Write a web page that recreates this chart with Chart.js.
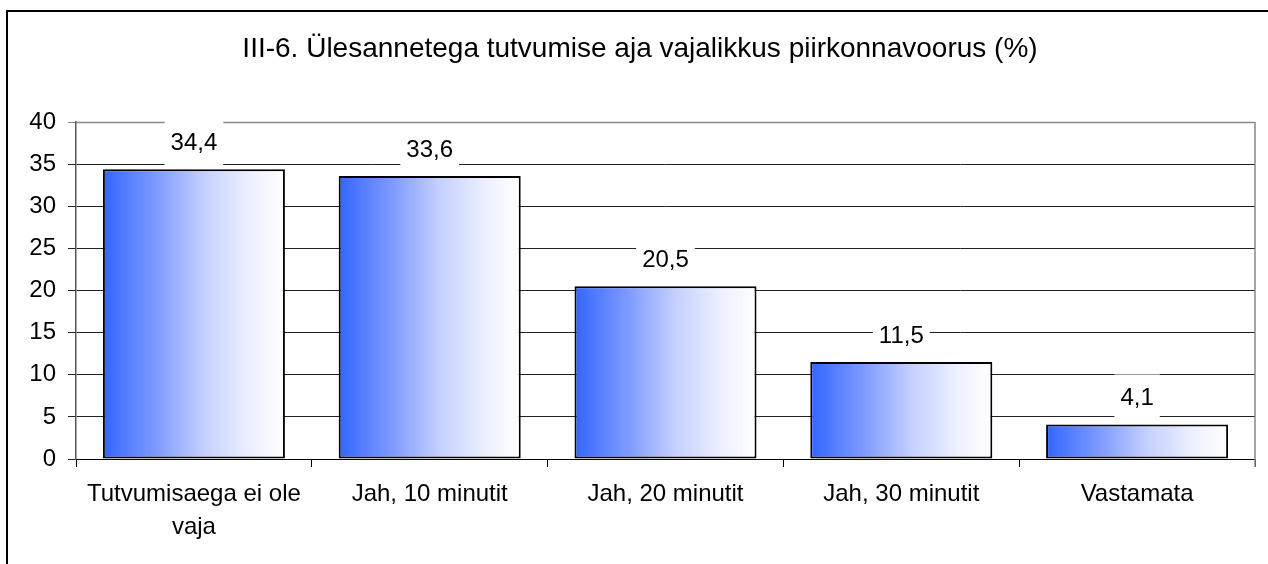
<!DOCTYPE html>
<html>
<head>
<meta charset="utf-8">
<script src="https://cdn.jsdelivr.net/npm/chart.js@4.4.1/dist/chart.umd.min.js"></script>
<style>
  html, body { margin: 0; padding: 0; background: #fff; }
  #wrap { width: 1268px; height: 564px; position: relative; }
</style>
</head>
<body>
<div id="wrap"><canvas id="chart" width="1268" height="564"></canvas></div>
<script>
// data
const categories = [["Tutvumisaega ei ole", "vaja"], "Jah, 10 minutit", "Jah, 20 minutit", "Jah, 30 minutit", "Vastamata"];
const values = [34.4, 33.6, 20.5, 11.5, 4.1];
const titleText = "III-6. Ülesannetega tutvumise aja vajalikkus piirkonnavoorus (%)";
const yMin = 0, yMax = 40, yStep = 5;

const FONT = '"Liberation Sans", Arial, sans-serif';
const BAR_PCT = 0.772;

// horizontal blue -> white fill for each bar
function barGradient(c) {
  const chart = c.chart;
  if (!chart.chartArea || c.dataIndex === undefined) return "#3366ff";
  const xs = chart.scales.x;
  const cx = xs.getPixelForValue(c.dataIndex);
  const w = xs.width / categories.length * BAR_PCT;
  const g = chart.ctx.createLinearGradient(cx - w / 2, 0, cx + w / 2, 0);
  g.addColorStop(0, "#3366ff");
  g.addColorStop(0.3, "#7f9bff");
  g.addColorStop(0.55, "#c3cfff");
  g.addColorStop(0.8, "#eceffe");
  g.addColorStop(1, "#ffffff");
  return g;
}

const framePlugin = {
  id: "frame",
  beforeDraw(chart) {
    const ctx = chart.ctx;
    ctx.save();
    ctx.fillStyle = "#fff";
    ctx.fillRect(0, 0, chart.width, chart.height);
    ctx.strokeStyle = "#000";
    ctx.lineWidth = 2;
    ctx.strokeRect(7, 11, chart.width + 20, chart.height + 20);
    ctx.fillStyle = "#000";
    ctx.font = "28px " + FONT;
    ctx.textAlign = "center";
    ctx.textBaseline = "alphabetic";
    ctx.fillText(titleText, 640, 57);
    ctx.restore();
  },
  // plot border goes under the bars and value labels
  beforeDatasetsDraw(chart) {
    const a = chart.chartArea;
    const ctx = chart.ctx;
    ctx.save();
    ctx.strokeStyle = "#888";
    ctx.lineWidth = 1.5;
    ctx.beginPath();
    ctx.moveTo(a.left, a.top + 0.5);
    ctx.lineTo(a.right, a.top + 0.5);
    ctx.moveTo(a.right, a.top);
    ctx.lineTo(a.right, a.bottom + 8);
    ctx.stroke();
    ctx.restore();
  }
};

const labelPlugin = {
  id: "valueLabels",
  afterDatasetsDraw(chart) {
    const ctx = chart.ctx;
    const meta = chart.getDatasetMeta(0);
    ctx.save();
    ctx.font = "24px " + FONT;
    ctx.textAlign = "center";
    ctx.textBaseline = "middle";
    meta.data.forEach((el, i) => {
      const txt = String(values[i]).replace(".", ",");
      const w = ctx.measureText(txt).width + 12;
      const cy = el.y - 27;
      ctx.fillStyle = "#fff";
      ctx.fillRect(el.x - w / 2, cy - 23, w, 46);
      ctx.fillStyle = "#000";
      ctx.fillText(txt, el.x, cy + 1);
    });
    ctx.restore();
  }
};

new Chart(document.getElementById("chart"), {
  type: "bar",
  data: {
    labels: categories,
    datasets: [{
      data: values,
      backgroundColor: barGradient,
      borderColor: "#000",
      borderWidth: 2,
      borderSkipped: false,
      categoryPercentage: 1,
      barPercentage: BAR_PCT
    }]
  },
  options: {
    responsive: false,
    animation: false,
    events: [],
    layout: { padding: { left: 0, right: 13, top: 122, bottom: 0 } },
    plugins: { legend: { display: false }, title: { display: false }, tooltip: { enabled: false } },
    scales: {
      x: {
        afterFit(s) { s.height = 105; },
        grid: { drawOnChartArea: false, drawTicks: true, tickLength: 8, color: "#000", offset: true },
        border: { display: true, color: "#000", width: 1 },
        ticks: {
          color: "#000", padding: 11, maxRotation: 0, autoSkip: false,
          font: { family: FONT, size: 24, lineHeight: 1.38 }
        }
      },
      y: {
        min: yMin, max: yMax,
        afterFit(s) { s.width = 76; },
        grid: {
          tickLength: 8,
          color: (c) => (c.tick && c.tick.value === yMax ? "#888" : "#222"),
          lineWidth: 1
        },
        border: { display: true, color: "#555", width: 1.5 },
        ticks: {
          stepSize: yStep, color: "#000", padding: 12,
          font: { family: FONT, size: 24 }
        }
      }
    }
  },
  plugins: [framePlugin, labelPlugin]
});
</script>
</body>
</html>
